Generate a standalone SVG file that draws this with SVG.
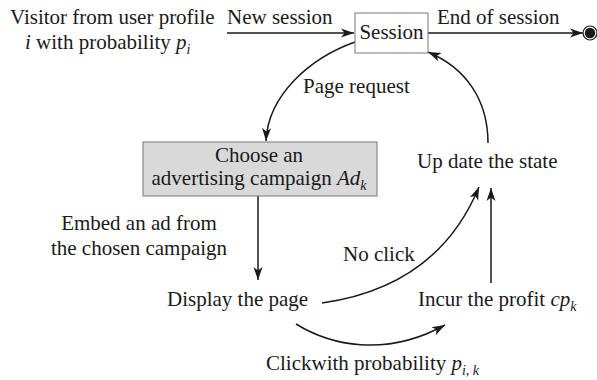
<svg xmlns="http://www.w3.org/2000/svg" width="597" height="380" viewBox="0 0 597 380" font-family="'Liberation Serif', 'DejaVu Serif', serif">
<defs>
<style>
text{font-family:'Liberation Serif','DejaVu Serif',serif;font-size:21px;fill:#1a1a1a}
.it{font-style:italic}
.sub{font-size:14px;font-style:italic}
.ln{fill:none;stroke:#1a1a1a;stroke-width:1.5}
.box{stroke:#777;stroke-width:1}
</style>
<marker id="ah" markerUnits="userSpaceOnUse" markerWidth="16" markerHeight="12" refX="13" refY="6" orient="auto" viewBox="0 0 16 12">
<path d="M0,1.5 L13,6 L0,10.5 L3.5,6 Z" fill="#1a1a1a"/>
</marker>
</defs>
<rect width="597" height="380" fill="#fff"/>
<g id="connectors">
<path class="ln" d="M227,33 L354,33" marker-end="url(#ah)"/>
<path class="ln" d="M428,33 L583,33" marker-end="url(#ah)"/>
<path class="ln" d="M355,42 C310,58 268,95 266,141" marker-end="url(#ah)"/>
<path class="ln" d="M488,143 C488,100 466,68 428,52" marker-end="url(#ah)"/>
<path class="ln" d="M258,196 L258,280" marker-end="url(#ah)"/>
<path class="ln" d="M322,303 C400,292 452,252 479,187" marker-end="url(#ah)"/>
<path class="ln" d="M491,283 L491,188" marker-end="url(#ah)"/>
<path class="ln" d="M296,324 C330,345 385,358 445,325" marker-end="url(#ah)"/>
</g>
<g id="visitor">
<text x="10" y="24">Visitor from user profile</text>
<text x="25" y="49"><tspan class="it">i</tspan> with probability <tspan class="it">p</tspan><tspan class="sub" dy="5">i</tspan></text>
</g>
<g id="label-new-session"><text x="227" y="24">New session</text></g>
<g id="session">
<rect class="box" x="355" y="13" width="73" height="40" fill="#fff"/>
<text x="391.5" y="39" text-anchor="middle">Session</text>
</g>
<g id="label-end-session"><text x="437" y="24">End of session</text></g>
<g id="end">
<circle cx="590" cy="33" r="7" fill="#fff" stroke="#1a1a1a" stroke-width="1.2"/>
<circle cx="590" cy="33" r="5.2" fill="#1a1a1a"/>
</g>
<g id="label-page-request"><text x="303" y="93">Page request</text></g>
<g id="choose">
<rect class="box" x="143" y="142" width="234" height="54" fill="#d9d9d9"/>
<text x="259" y="162" text-anchor="middle">Choose an</text>
<text x="259" y="185" text-anchor="middle">advertising campaign <tspan class="it">Ad</tspan><tspan class="sub" dy="5">k</tspan></text>
</g>
<g id="label-embed">
<text x="139" y="230" text-anchor="middle">Embed an ad from</text>
<text x="139" y="255" text-anchor="middle">the chosen campaign</text>
</g>
<g id="display"><text x="167" y="306">Display the page</text></g>
<g id="update"><text x="417" y="168">Up date the state</text></g>
<g id="label-no-click"><text x="343" y="261">No click</text></g>
<g id="incur"><text x="418" y="306">Incur the profit <tspan class="it">cp</tspan><tspan class="sub" dy="5">k</tspan></text></g>
<g id="label-click"><text x="266" y="370">Clickwith probability <tspan class="it">p</tspan><tspan class="sub" dy="5">i, k</tspan></text></g>
</svg>
